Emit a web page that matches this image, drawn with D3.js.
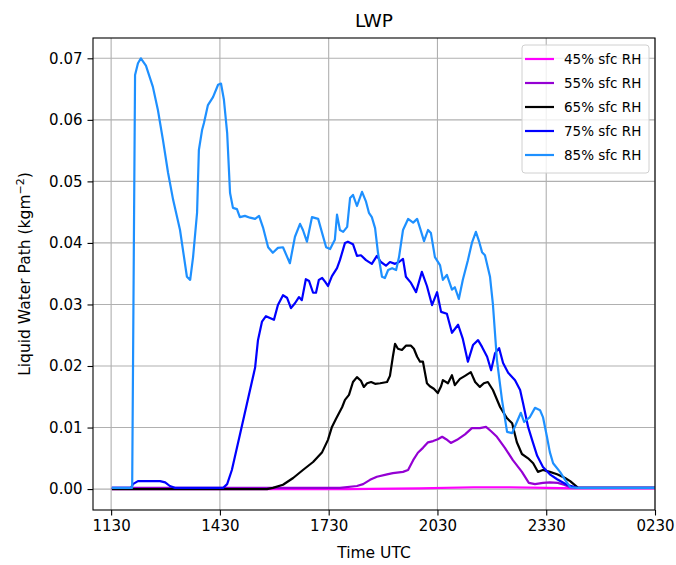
<!DOCTYPE html>
<html>
<head>
<meta charset="utf-8">
<script src="https://cdn.jsdelivr.net/npm/d3@7"></script>
<style>
  body { margin: 0; background: #fff; }
  svg text { font-family: "DejaVu Sans", sans-serif; fill: #000; }
</style>
</head>
<body>
<div id="chart"></div>
<script>
// Tick positions (hours UTC, past midnight continues as 24+)
var xTicks      = [11.5, 14.5, 17.5, 20.5, 23.5, 26.5];
var xTickLabels = ["1130", "1430", "1730", "2030", "2330", "0230"];
var yTicks      = [0, 0.01, 0.02, 0.03, 0.04, 0.05, 0.06, 0.07];

var seriesNames = ["45% sfc RH", "55% sfc RH", "65% sfc RH", "75% sfc RH", "85% sfc RH"];
var seriesColours = ["#ff00ff", "#9400d3", "#000000", "#0000ff", "#1e90ff"];

// [time, LWP] pairs
var rh45 = [[11.55,0],[18.0,0],[20.0,0.0001],[21.5,0.0003],[22.5,0.0003],[23.5,0.0002],[24.3,0.0001],[26.5,0.0001]];

var rh55 = [[11.55,0.0002],[17.81,0.0002],[18.28,0.0005],[18.45,0.0008],[18.64,0.0015],[18.83,0.0020],
  [19.11,0.0024],[19.27,0.0026],[19.55,0.0028],[19.69,0.0031],[19.83,0.0047],[19.96,0.0059],[20.10,0.0067],
  [20.24,0.0076],[20.38,0.0078],[20.51,0.0081],[20.63,0.0085],[20.74,0.0081],[20.87,0.0075],[21.04,0.0080],
  [21.26,0.0089],[21.45,0.0099],[21.67,0.0099],[21.84,0.0101],[21.98,0.0094],[22.14,0.0085],[22.36,0.0067],
  [22.58,0.0047],[22.83,0.0028],[23.02,0.0010],[23.19,0.0008],[23.41,0.0010],[23.60,0.0011],[23.82,0.0010],
  [23.99,0.0007],[24.16,0.0003],[24.35,0.0002],[26.5,0.0002]];

var rh65 = [[11.55,0],[15.80,0],[15.96,0.0002],[16.24,0.0007],[16.52,0.0018],[16.79,0.0031],[17.07,0.0044],
  [17.32,0.0060],[17.48,0.0080],[17.59,0.0101],[17.70,0.0114],[17.87,0.0133],[17.95,0.0145],[18.06,0.0153],
  [18.17,0.0174],[18.28,0.0182],[18.39,0.0176],[18.47,0.0166],[18.56,0.0172],[18.67,0.0174],[18.78,0.0171],
  [18.92,0.0172],[19.11,0.0174],[19.19,0.0184],[19.27,0.0215],[19.33,0.0236],[19.41,0.0228],[19.52,0.0226],
  [19.63,0.0233],[19.77,0.0233],[19.85,0.0228],[19.94,0.0215],[20.02,0.0207],[20.10,0.0207],[20.21,0.0172],
  [20.29,0.0167],[20.40,0.0163],[20.51,0.0156],[20.60,0.0167],[20.65,0.0177],[20.79,0.0172],[20.90,0.0185],
  [20.98,0.0169],[21.12,0.0179],[21.26,0.0184],[21.42,0.0190],[21.54,0.0174],[21.67,0.0166],[21.78,0.0172],
  [21.89,0.0174],[22.03,0.0161],[22.23,0.0133],[22.42,0.0115],[22.56,0.0107],[22.69,0.0076],[22.83,0.0057],
  [23.00,0.0050],[23.14,0.0042],[23.27,0.0028],[23.41,0.0031],[23.60,0.0028],[23.80,0.0024],[24.02,0.0018],
  [24.16,0.0013],[24.38,0.0002],[26.5,0.0002]];

var rh75 = [[11.55,0.0002],[12.05,0.0002],[12.10,0.0008],[12.24,0.0013],[12.85,0.0013],[12.99,0.0011],
  [13.12,0.0005],[13.26,0.0002],[14.59,0.0002],[14.70,0.0008],[14.83,0.0031],[15.05,0.0088],[15.27,0.0145],
  [15.47,0.0197],[15.55,0.0242],[15.66,0.0272],[15.77,0.0281],[15.88,0.0278],[15.99,0.0275],[16.10,0.0299],
  [16.24,0.0315],[16.35,0.0311],[16.46,0.0294],[16.57,0.0302],[16.68,0.0312],[16.76,0.0307],[16.87,0.0341],
  [16.96,0.0338],[17.07,0.0319],[17.15,0.0319],[17.23,0.0340],[17.32,0.0343],[17.40,0.0337],[17.48,0.0330],
  [17.59,0.0346],[17.73,0.0359],[17.81,0.0372],[17.95,0.0400],[18.03,0.0402],[18.17,0.0398],[18.28,0.0379],
  [18.39,0.0380],[18.53,0.0372],[18.69,0.0366],[18.83,0.0379],[18.94,0.0369],[19.08,0.0363],[19.19,0.0369],
  [19.33,0.0366],[19.44,0.0369],[19.55,0.0374],[19.63,0.0345],[19.77,0.0335],[19.91,0.0320],[20.07,0.0353],
  [20.21,0.0330],[20.35,0.0299],[20.49,0.0320],[20.60,0.0288],[20.76,0.0285],[20.90,0.0254],[21.07,0.0267],
  [21.20,0.0244],[21.34,0.0207],[21.48,0.0234],[21.62,0.0242],[21.73,0.0231],[21.87,0.0215],[21.98,0.0193],
  [22.09,0.0221],[22.20,0.0229],[22.31,0.0205],[22.45,0.0189],[22.64,0.0177],[22.78,0.0161],[22.86,0.0140],
  [23.00,0.0101],[23.11,0.0080],[23.25,0.0054],[23.41,0.0036],[23.60,0.0024],[23.80,0.0016],[24.07,0.0007],
  [24.35,0.0002],[26.5,0.0002]];

var rh85 = [[11.55,0.0002],[12.08,0.0002],[12.16,0.0673],[12.24,0.0692],[12.32,0.0700],[12.46,0.0688],
  [12.65,0.0654],[12.79,0.0616],[12.93,0.0567],[13.07,0.0514],[13.21,0.0470],[13.40,0.0421],[13.59,0.0345],
  [13.68,0.0340],[13.76,0.0377],[13.87,0.0449],[13.92,0.0551],[14.01,0.0584],[14.06,0.0595],[14.17,0.0624],
  [14.31,0.0637],[14.45,0.0657],[14.53,0.0659],[14.61,0.0633],[14.70,0.0579],[14.78,0.0481],[14.86,0.0457],
  [14.97,0.0455],[15.05,0.0442],[15.19,0.0444],[15.33,0.0441],[15.47,0.0439],[15.58,0.0444],[15.69,0.0425],
  [15.83,0.0393],[15.96,0.0384],[16.10,0.0392],[16.24,0.0393],[16.43,0.0367],[16.57,0.0410],[16.71,0.0431],
  [16.79,0.0421],[16.90,0.0402],[17.04,0.0442],[17.21,0.0439],[17.32,0.0416],[17.43,0.0393],[17.54,0.0390],
  [17.67,0.0405],[17.73,0.0446],[17.81,0.0421],[17.90,0.0418],[18.01,0.0426],[18.09,0.0473],[18.17,0.0478],
  [18.28,0.0460],[18.42,0.0483],[18.53,0.0467],[18.61,0.0449],[18.69,0.0442],[18.78,0.0424],[18.86,0.0384],
  [18.97,0.0345],[19.05,0.0343],[19.14,0.0356],[19.25,0.0359],[19.36,0.0356],[19.44,0.0377],[19.55,0.0421],
  [19.69,0.0439],[19.83,0.0433],[19.94,0.0439],[20.02,0.0424],[20.13,0.0403],[20.24,0.0421],[20.32,0.0416],
  [20.43,0.0377],[20.57,0.0364],[20.65,0.0340],[20.76,0.0348],[20.90,0.0324],[20.98,0.0328],[21.09,0.0309],
  [21.20,0.0340],[21.34,0.0372],[21.45,0.0400],[21.56,0.0418],[21.65,0.0402],[21.73,0.0385],[21.81,0.0380],
  [21.95,0.0345],[22.03,0.0300],[22.14,0.0210],[22.28,0.0145],[22.42,0.0093],[22.56,0.0091],[22.69,0.0109],
  [22.80,0.0124],[22.89,0.0109],[23.05,0.0117],[23.19,0.0132],[23.33,0.0128],[23.41,0.0117],[23.52,0.0085],
  [23.60,0.0060],[23.69,0.0042],[23.88,0.0028],[24.02,0.0015],[24.16,0.0003],[24.35,0.0002],[26.5,0.0002]];

var allSeries = [rh45, rh55, rh65, rh75, rh85];

// Layout
var W = 676, H = 565;
var plot = { left: 93, right: 655, top: 38, bottom: 510 };

var svg = d3.select("#chart").append("svg")
    .attr("width", W).attr("height", H);

var x = d3.scaleLinear().domain([11.0, 26.5]).range([plot.left, plot.right]);
var y = d3.scaleLinear().domain([-0.0034, 0.0733]).range([plot.bottom, plot.top]);

// grid
var grid = svg.append("g").attr("stroke", "#b0b0b0").attr("stroke-width", 1.1);
grid.selectAll("line.vx").data(xTicks).enter().append("line")
    .attr("x1", function(d){ return x(d); }).attr("x2", function(d){ return x(d); })
    .attr("y1", plot.top).attr("y2", plot.bottom);
grid.selectAll("line.hy").data(yTicks).enter().append("line")
    .attr("y1", function(d){ return y(d); }).attr("y2", function(d){ return y(d); })
    .attr("x1", plot.left).attr("x2", plot.right);

// lines
svg.append("clipPath").attr("id", "clip").append("rect")
    .attr("x", plot.left).attr("y", plot.top)
    .attr("width", plot.right - plot.left).attr("height", plot.bottom - plot.top);

var line = d3.line()
    .x(function(d){ return x(d[0]); })
    .y(function(d){ return y(d[1]); });

svg.append("g").attr("clip-path", "url(#clip)")
  .selectAll("path").data(allSeries).enter().append("path")
    .attr("d", line)
    .attr("fill", "none")
    .attr("stroke", function(d, i){ return seriesColours[i]; })
    .attr("stroke-width", 2.2)
    .attr("stroke-linejoin", "round")
    .attr("stroke-linecap", "square");

// axes
var xAxis = d3.axisBottom(x).tickValues(xTicks)
    .tickFormat(function(d, i){ return xTickLabels[i]; })
    .tickSize(5.5).tickPadding(5);
var yAxis = d3.axisLeft(y).tickValues(yTicks)
    .tickFormat(d3.format(".2f"))
    .tickSize(5.5).tickPadding(5);

var gx = svg.append("g").attr("transform", "translate(0," + plot.bottom + ")").call(xAxis);
var gy = svg.append("g").attr("transform", "translate(" + plot.left + ",0)").call(yAxis);
[gx, gy].forEach(function(g){
    g.select(".domain").remove();
    g.selectAll(".tick line").attr("stroke", "#000").attr("stroke-width", 1.1);
    g.selectAll(".tick text").attr("font-size", "15px").attr("fill", "#000")
      .style("font-family", "'DejaVu Sans', sans-serif");
});

// frame
svg.append("rect")
    .attr("x", plot.left).attr("y", plot.top)
    .attr("width", plot.right - plot.left).attr("height", plot.bottom - plot.top)
    .attr("fill", "none").attr("stroke", "#000").attr("stroke-width", 1.1);

// title and labels
svg.append("text").attr("x", (plot.left + plot.right) / 2).attr("y", 27)
    .attr("text-anchor", "middle").attr("font-size", "18.5px").text("LWP");

svg.append("text").attr("x", (plot.left + plot.right) / 2).attr("y", 558)
    .attr("text-anchor", "middle").attr("font-size", "15.5px").text("Time UTC");

var ylab = svg.append("text")
    .attr("transform", "translate(30," + ((plot.top + plot.bottom) / 2) + ") rotate(-90)")
    .attr("text-anchor", "middle").attr("font-size", "15.5px");
ylab.append("tspan").text("Liquid Water Path (kgm");
ylab.append("tspan").attr("dy", -6).attr("font-size", "11px").text("\u22122");
ylab.append("tspan").attr("dy", 6).text(")");

// legend
var leg = svg.append("g").attr("transform", "translate(522,45)");
leg.append("rect").attr("width", 127).attr("height", 128).attr("rx", 3)
    .attr("fill", "#fff").attr("fill-opacity", 0.8)
    .attr("stroke", "#d0d0d0").attr("stroke-width", 1);
var rows = leg.selectAll("g.row").data(seriesNames).enter().append("g")
    .attr("transform", function(d, i){ return "translate(0," + (14 + i * 24) + ")"; });
rows.append("line").attr("x1", 3).attr("x2", 32).attr("y1", 0).attr("y2", 0)
    .attr("stroke", function(d, i){ return seriesColours[i]; }).attr("stroke-width", 2.2);
rows.append("text").attr("x", 42).attr("y", 5).attr("font-size", "13.5px")
    .text(function(d){ return d; });
</script>
</body>
</html>
